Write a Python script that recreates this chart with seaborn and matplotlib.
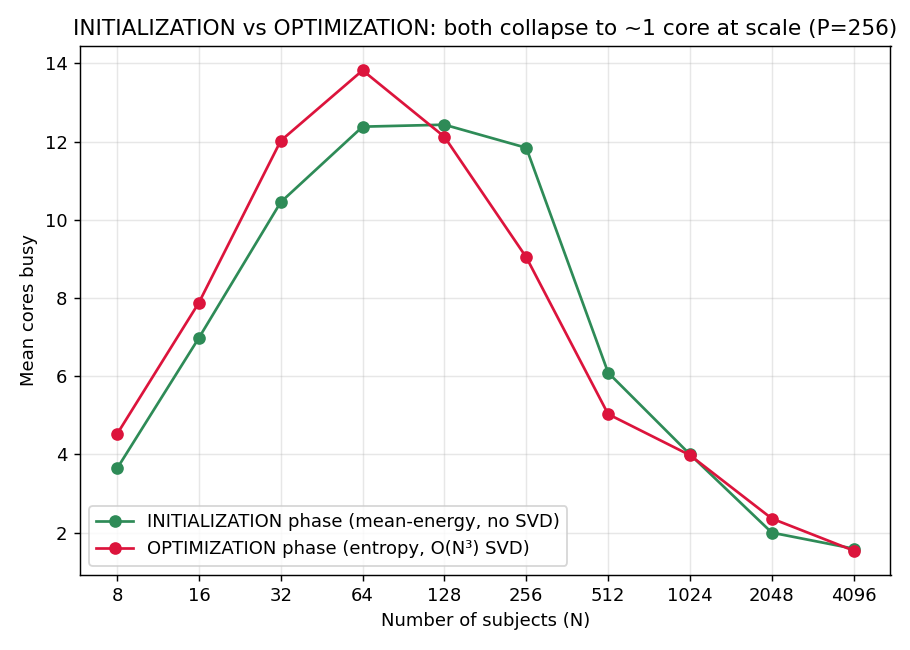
import matplotlib
matplotlib.use("Agg")
import matplotlib.pyplot as plt
import pandas as pd
import seaborn as sns

SUBJECTS = [8, 16, 32, 64, 128, 256, 512, 1024, 2048, 4096]
INIT_CORES = [3.64, 6.98, 10.45, 12.38, 12.43, 11.84, 6.09, 4.00, 2.00, 1.59]
OPT_CORES = [4.52, 7.88, 12.02, 13.82, 12.12, 9.04, 5.03, 3.98, 2.36, 1.54]

INIT_LABEL = "INITIALIZATION phase (mean-energy, no SVD)"
OPT_LABEL = "OPTIMIZATION phase (entropy, O(N³) SVD)"


def main() -> None:
    # plain matplotlib look; seaborn only draws the lines
    plt.rcParams["font.family"] = ["DejaVu Sans"]

    df = pd.concat(
        [
            pd.DataFrame({"N": SUBJECTS, "cores": INIT_CORES, "phase": INIT_LABEL}),
            pd.DataFrame({"N": SUBJECTS, "cores": OPT_CORES, "phase": OPT_LABEL}),
        ],
        ignore_index=True,
    )

    fig, ax = plt.subplots(figsize=(7, 5), dpi=130)
    sns.lineplot(
        data=df,
        x="N",
        y="cores",
        hue="phase",
        palette={INIT_LABEL: "seagreen", OPT_LABEL: "crimson"},
        marker="o",
        markersize=7,
        markeredgewidth=0,
        linewidth=1.5,
        ax=ax,
    )
    ax.set_xscale("log", base=2)
    ax.set_xticks(SUBJECTS)
    ax.set_xticklabels([str(n) for n in SUBJECTS])
    ax.minorticks_off()
    ax.grid(True, alpha=0.3)
    ax.set_xlabel("Number of subjects (N)")
    ax.set_ylabel("Mean cores busy")
    ax.set_title("INITIALIZATION vs OPTIMIZATION: both collapse to ~1 core at scale (P=256)", fontsize=12)
    ax.legend(loc="lower left", title=None)
    fig.tight_layout()
    fig.savefig("out.png", dpi=130)


if __name__ == "__main__":
    main()
